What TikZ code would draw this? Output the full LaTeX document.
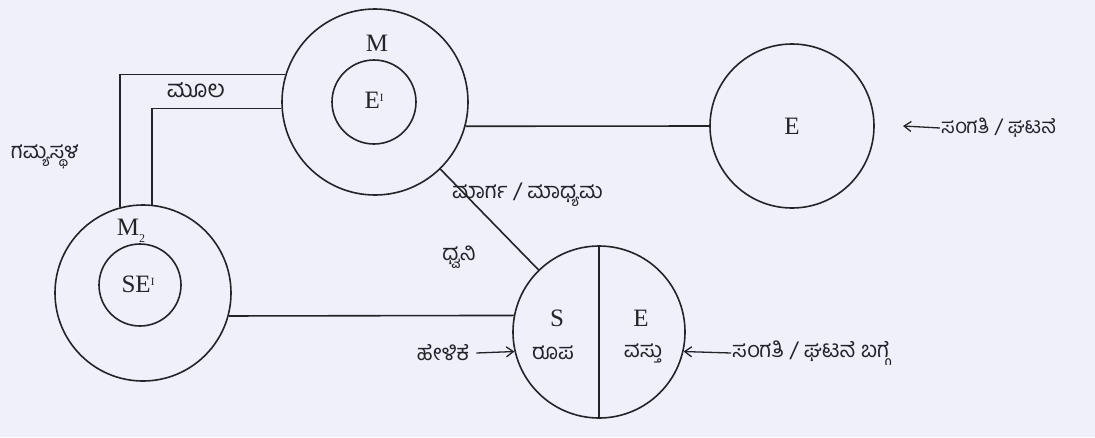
\documentclass[tikz,border=0pt]{standalone}
\usepackage{fontspec}
\setmainfont{Liberation Serif}
\newfontfamily\kn[Script=Kannada]{Hind Mysuru}
\usetikzlibrary{arrows.meta}
\definecolor{bgc}{RGB}{239,240,250}
\definecolor{ink}{RGB}{35,35,40}
\begin{document}
\begin{tikzpicture}[x=1pt,y=-1pt,
  ring/.style={circle,draw=ink,line width=1.6pt,inner sep=0pt},
  conn/.style={draw=ink,line width=1.6pt},
  arr/.style={draw=ink,line width=1.3pt,-{Straight Barb[length=7pt,width=10pt]}},
  big/.style={text=ink,font=\fontsize{25}{28}\selectfont,inner sep=0pt},
  kl/.style={text=ink,font=\kn\fontsize{22}{24}\selectfont,inner sep=1pt}]
\fill[bgc] (0,0) rectangle (1095,437);
\useasboundingbox (0,0) rectangle (1095,437);
% circles
\node[ring,minimum size=186pt] (M) at (375,102) {};
\node[ring,minimum size=84pt] (Mi) at (374,102) {};
\node[ring,minimum size=164pt] (E) at (792,126) {};
\node[ring,minimum size=176pt] (M2) at (143,293) {};
\node[ring,minimum size=82pt] (M2i) at (140,285) {};
\node[ring,minimum size=172pt] (SC) at (599,332) {};
% texts
\node[big] (tM) at (377,43) {M};
\node[big] (tEi) at (374,100) {E\raisebox{0.55ex}{\fontsize{11}{11}\selectfont I}};
\node[big] (tE) at (792,126) {E};
\node[big] (tM2) at (131,231) {M\raisebox{-0.6ex}{\fontsize{12}{12}\selectfont 2}};
\node[big] (tSE) at (138,284) {SE\raisebox{0.55ex}{\fontsize{11}{11}\selectfont I}};
\node[big] (tS) at (557,318) {S};
\node[big] (tE2) at (641,318) {E};
\node[kl] (lR) at (553,353) {ರೂಪ};
\node[kl] (lV) at (643,353) {ವಸ್ತು};
\node[kl,font=\kn\fontsize{24}{26}\selectfont] (lMu) at (196,90) {ಮೂಲ};
\node[kl] (lG) at (45,157) {ಗಮ್ಯಸ್ಥಳ};
\node[kl,anchor=west] (lMa) at (451,195) {ಮಾರ್ಗ / ಮಾಧ್ಯಮ};
\node[kl] (lD) at (459,257) {ಧ್ವನಿ};
\node[kl] (lH) at (443,353) {ಹೇಳಿಕೆ};
\node[kl,anchor=west] (lB) at (731,353) {ಸಂಗತಿ / ಘಟನೆ ಬಗ್ಗೆ};
\node[kl,anchor=west,font=\kn\fontsize{20.5}{22}\selectfont] (lE) at (940,128) {ಸಂಗತಿ / ಘಟನೆ};
\coordinate (tipE) at (903,126);
% connectors
\draw[conn] (M.-15) -- (E.west);
\draw[conn] (M.163) -| (M2.105);
\draw[conn] (M.184) -| (M2.84);
\draw[conn] (M) -- (SC);
\draw[conn] (M2.-15) -- (SC.169);
\draw[conn] (SC.north) -- (SC.south);
\draw[arr] (lE.west) -- (tipE);
\draw[arr] ([xshift=6pt]lH.east) -- (SC.193);
\draw[arr] (lB.west) -- (SC.-13);
\end{tikzpicture}
\end{document}
